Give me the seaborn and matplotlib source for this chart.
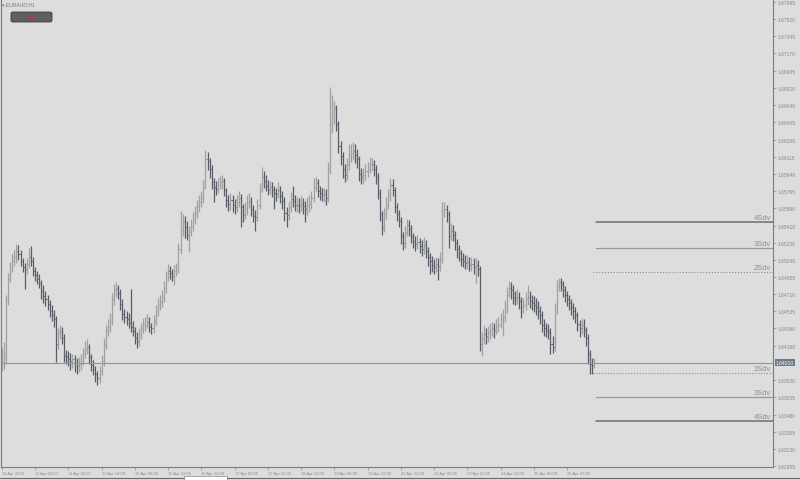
import matplotlib
matplotlib.use("Agg")
import matplotlib.pyplot as plt
import matplotlib.patches as mpatches
import matplotlib.transforms as mtransforms
import pandas as pd
import seaborn as sns

# EURAUD H1 bars, 10 Apr 2024 14:00 -> 26 Apr 2024
first_open = 1.6398
closes = [
    1.6402, 1.6405, 1.6466, 1.6487, 1.6499, 1.6505, 1.6509, 1.6515, 1.6512, 1.6505,
    1.6499, 1.6497, 1.6502, 1.6509, 1.6505, 1.6495, 1.6491, 1.6487, 1.6482, 1.6474,
    1.6469, 1.6466, 1.6461, 1.6454, 1.6450, 1.6446, 1.6420, 1.6431, 1.6433, 1.6426,
    1.6408, 1.6407, 1.6405, 1.6403, 1.6405, 1.6401, 1.6398, 1.6400, 1.6403, 1.6410,
    1.6415, 1.6417, 1.6407, 1.6399, 1.6395, 1.6389, 1.6385, 1.6393, 1.6403, 1.6420,
    1.6433, 1.6438, 1.6444, 1.6466, 1.6475, 1.6477, 1.6472, 1.6461, 1.6451, 1.6448,
    1.6446, 1.6442, 1.6438, 1.6433, 1.6426, 1.6423, 1.6430, 1.6436, 1.6440, 1.6440,
    1.6443, 1.6438, 1.6436, 1.6444, 1.6454, 1.6460, 1.6463, 1.6468, 1.6477, 1.6489,
    1.6495, 1.6493, 1.6490, 1.6495, 1.6497, 1.6517, 1.6536, 1.6546, 1.6540, 1.6532,
    1.6535, 1.6541, 1.6548, 1.6554, 1.6560, 1.6565, 1.6569, 1.6581, 1.6609, 1.6607,
    1.6599, 1.6586, 1.6581, 1.6579, 1.6583, 1.6586, 1.6587, 1.6577, 1.6567, 1.6563,
    1.6567, 1.6562, 1.6560, 1.6565, 1.6569, 1.6560, 1.6552, 1.6558, 1.6565, 1.6566,
    1.6558, 1.6551, 1.6550, 1.6562, 1.6579, 1.6591, 1.6587, 1.6582, 1.6579, 1.6581,
    1.6577, 1.6574, 1.6573, 1.6577, 1.6571, 1.6566, 1.6554, 1.6552, 1.6560, 1.6568,
    1.6566, 1.6562, 1.6562, 1.6561, 1.6563, 1.6561, 1.6558, 1.6562, 1.6563, 1.6569,
    1.6581, 1.6585, 1.6576, 1.6574, 1.6572, 1.6573, 1.6569, 1.6599, 1.6645, 1.6652,
    1.6661, 1.6645, 1.6622, 1.6612, 1.6599, 1.6593, 1.6604, 1.6612, 1.6615, 1.6617,
    1.6613, 1.6609, 1.6594, 1.6591, 1.6593, 1.6597, 1.6599, 1.6604, 1.6604, 1.6599,
    1.6591, 1.6574, 1.6553, 1.6540, 1.6553, 1.6563, 1.6571, 1.6583, 1.6577, 1.6560,
    1.6553, 1.6546, 1.6530, 1.6523, 1.6535, 1.6542, 1.6538, 1.6530, 1.6525, 1.6522,
    1.6524, 1.6520, 1.6517, 1.6521, 1.6515, 1.6509, 1.6505, 1.6501, 1.6499, 1.6502,
    1.6500, 1.6507, 1.6556, 1.6558, 1.6553, 1.6530, 1.6536, 1.6532, 1.6523, 1.6517,
    1.6513, 1.6507, 1.6505, 1.6503, 1.6504, 1.6501, 1.6502, 1.6499, 1.6501, 1.6497,
    1.6420, 1.6426, 1.6430, 1.6428, 1.6432, 1.6433, 1.6436, 1.6434, 1.6438, 1.6440,
    1.6446, 1.6448, 1.6458, 1.6470, 1.6477, 1.6475, 1.6468, 1.6466, 1.6468, 1.6464,
    1.6458, 1.6460, 1.6466, 1.6468, 1.6464, 1.6462, 1.6460, 1.6458, 1.6454, 1.6450,
    1.6440, 1.6436, 1.6434, 1.6432, 1.6420, 1.6417, 1.6456, 1.6479, 1.6483, 1.6481,
    1.6475, 1.6470, 1.6466, 1.6462, 1.6458, 1.6454, 1.6450, 1.6441, 1.6436, 1.6440,
    1.6434, 1.6426, 1.6410, 1.6400, 1.6399, 1.6401,
]
highs = [
    1.6416, 1.6422, 1.6470, 1.6493, 1.6504, 1.6512, 1.6516, 1.6522, 1.6521, 1.6516,
    1.6508, 1.6503, 1.6508, 1.6518, 1.6520, 1.6509, 1.6499, 1.6495, 1.6492, 1.6486,
    1.6480, 1.6474, 1.6470, 1.6465, 1.6460, 1.6455, 1.6449, 1.6437, 1.6440, 1.6438,
    1.6430, 1.6414, 1.6413, 1.6411, 1.6410, 1.6409, 1.6406, 1.6407, 1.6410, 1.6416,
    1.6423, 1.6425, 1.6420, 1.6410, 1.6404, 1.6398, 1.6393, 1.6398, 1.6409, 1.6426,
    1.6440, 1.6446, 1.6452, 1.6472, 1.6481, 1.6483, 1.6480, 1.6476, 1.6466, 1.6456,
    1.6454, 1.6452, 1.6476, 1.6444, 1.6438, 1.6432, 1.6436, 1.6442, 1.6447, 1.6448,
    1.6451, 1.6448, 1.6442, 1.6450, 1.6460, 1.6467, 1.6470, 1.6475, 1.6484, 1.6495,
    1.6502, 1.6500, 1.6497, 1.6501, 1.6503, 1.6523, 1.6556, 1.6553, 1.6551, 1.6546,
    1.6541, 1.6548, 1.6555, 1.6561, 1.6567, 1.6572, 1.6576, 1.6588, 1.6618, 1.6616,
    1.6610, 1.6603, 1.6590, 1.6587, 1.6590, 1.6592, 1.6593, 1.6590, 1.6580, 1.6572,
    1.6574, 1.6572, 1.6568, 1.6572, 1.6576, 1.6573, 1.6563, 1.6565, 1.6572, 1.6574,
    1.6570, 1.6562, 1.6557, 1.6568, 1.6585, 1.6601, 1.6597, 1.6593, 1.6588, 1.6587,
    1.6586, 1.6582, 1.6580, 1.6586, 1.6582, 1.6576, 1.6570, 1.6560, 1.6566, 1.6575,
    1.6582, 1.6572, 1.6570, 1.6569, 1.6571, 1.6569, 1.6566, 1.6570, 1.6572, 1.6576,
    1.6590, 1.6591, 1.6589, 1.6582, 1.6580, 1.6580, 1.6578, 1.6606, 1.6683, 1.6675,
    1.6668, 1.6664, 1.6648, 1.6628, 1.6616, 1.6604, 1.6610, 1.6624, 1.6624, 1.6626,
    1.6624, 1.6619, 1.6612, 1.6600, 1.6600, 1.6604, 1.6606, 1.6611, 1.6610, 1.6608,
    1.6603, 1.6595, 1.6578, 1.6556, 1.6559, 1.6570, 1.6578, 1.6590, 1.6589, 1.6581,
    1.6564, 1.6557, 1.6550, 1.6535, 1.6541, 1.6548, 1.6547, 1.6542, 1.6534, 1.6530,
    1.6531, 1.6528, 1.6526, 1.6529, 1.6526, 1.6519, 1.6513, 1.6510, 1.6507, 1.6509,
    1.6508, 1.6514, 1.6565, 1.6565, 1.6562, 1.6556, 1.6544, 1.6542, 1.6536, 1.6527,
    1.6521, 1.6516, 1.6513, 1.6511, 1.6511, 1.6509, 1.6509, 1.6508, 1.6508, 1.6506,
    1.6500, 1.6432, 1.6440, 1.6437, 1.6439, 1.6442, 1.6443, 1.6442, 1.6446, 1.6448,
    1.6452, 1.6456, 1.6465, 1.6478, 1.6484, 1.6483, 1.6480, 1.6474, 1.6476, 1.6473,
    1.6468, 1.6467, 1.6473, 1.6480, 1.6474, 1.6470, 1.6469, 1.6467, 1.6464, 1.6459,
    1.6454, 1.6446, 1.6442, 1.6441, 1.6436, 1.6428, 1.6462, 1.6486, 1.6488, 1.6488,
    1.6485, 1.6479, 1.6474, 1.6470, 1.6466, 1.6462, 1.6458, 1.6453, 1.6445, 1.6447,
    1.6446, 1.6438, 1.6430, 1.6414, 1.6406, 1.6406,
]
lows = [
    1.6393, 1.6395, 1.6400, 1.6460, 1.6483, 1.6494, 1.6500, 1.6503, 1.6506, 1.6500,
    1.6494, 1.6476, 1.6492, 1.6498, 1.6500, 1.6490, 1.6485, 1.6481, 1.6477, 1.6466,
    1.6462, 1.6459, 1.6455, 1.6448, 1.6444, 1.6438, 1.6402, 1.6415, 1.6425, 1.6420,
    1.6402, 1.6400, 1.6398, 1.6394, 1.6396, 1.6392, 1.6390, 1.6392, 1.6394, 1.6399,
    1.6406, 1.6410, 1.6400, 1.6393, 1.6388, 1.6381, 1.6378, 1.6380, 1.6388, 1.6398,
    1.6415, 1.6428, 1.6432, 1.6440, 1.6460, 1.6468, 1.6466, 1.6455, 1.6445, 1.6442,
    1.6440, 1.6436, 1.6432, 1.6428, 1.6420, 1.6416, 1.6418, 1.6425, 1.6431, 1.6433,
    1.6436, 1.6432, 1.6430, 1.6431, 1.6440, 1.6449, 1.6455, 1.6458, 1.6463, 1.6472,
    1.6484, 1.6487, 1.6484, 1.6480, 1.6490, 1.6493, 1.6512, 1.6530, 1.6528, 1.6526,
    1.6514, 1.6530, 1.6536, 1.6543, 1.6549, 1.6555, 1.6560, 1.6564, 1.6578, 1.6598,
    1.6590, 1.6578, 1.6565, 1.6572, 1.6574, 1.6578, 1.6579, 1.6571, 1.6560, 1.6556,
    1.6557, 1.6555, 1.6553, 1.6555, 1.6560, 1.6540, 1.6545, 1.6548, 1.6552, 1.6559,
    1.6551, 1.6545, 1.6536, 1.6546, 1.6558, 1.6575, 1.6580, 1.6576, 1.6572, 1.6573,
    1.6570, 1.6558, 1.6566, 1.6569, 1.6564, 1.6558, 1.6546, 1.6540, 1.6547, 1.6555,
    1.6560, 1.6556, 1.6555, 1.6554, 1.6556, 1.6553, 1.6545, 1.6552, 1.6555, 1.6558,
    1.6565, 1.6576, 1.6570, 1.6567, 1.6566, 1.6565, 1.6562, 1.6565, 1.6594, 1.6636,
    1.6645, 1.6638, 1.6615, 1.6603, 1.6590, 1.6586, 1.6588, 1.6598, 1.6606, 1.6608,
    1.6605, 1.6600, 1.6587, 1.6584, 1.6585, 1.6588, 1.6591, 1.6595, 1.6597, 1.6592,
    1.6584, 1.6568, 1.6546, 1.6531, 1.6535, 1.6548, 1.6558, 1.6566, 1.6571, 1.6554,
    1.6546, 1.6540, 1.6522, 1.6516, 1.6518, 1.6530, 1.6530, 1.6523, 1.6518, 1.6515,
    1.6517, 1.6513, 1.6510, 1.6512, 1.6508, 1.6500, 1.6492, 1.6494, 1.6492, 1.6494,
    1.6486, 1.6495, 1.6503, 1.6550, 1.6545, 1.6518, 1.6526, 1.6525, 1.6516, 1.6508,
    1.6505, 1.6500, 1.6499, 1.6497, 1.6497, 1.6495, 1.6495, 1.6492, 1.6482, 1.6490,
    1.6413, 1.6408, 1.6420, 1.6420, 1.6422, 1.6425, 1.6428, 1.6426, 1.6430, 1.6432,
    1.6436, 1.6428, 1.6443, 1.6452, 1.6468, 1.6466, 1.6461, 1.6460, 1.6461, 1.6456,
    1.6447, 1.6452, 1.6455, 1.6460, 1.6457, 1.6455, 1.6453, 1.6450, 1.6446, 1.6441,
    1.6432, 1.6428, 1.6427, 1.6425, 1.6410, 1.6411, 1.6413, 1.6451, 1.6474, 1.6474,
    1.6468, 1.6463, 1.6459, 1.6455, 1.6450, 1.6446, 1.6442, 1.6433, 1.6427, 1.6430,
    1.6427, 1.6418, 1.6400, 1.6390, 1.6390, 1.6396,
]

tick_bars = [0, 16, 32, 48, 64, 80, 96, 112, 128, 144, 160, 176, 192, 208, 224, 240, 256, 272]
tick_labels = ["10 Apr 2024", "11 Apr 06:00", "11 Apr 22:00", "12 Apr 14:00", "15 Apr 06:00",
               "15 Apr 22:00", "16 Apr 14:00", "17 Apr 06:00", "17 Apr 22:00", "18 Apr 14:00",
               "19 Apr 06:00", "19 Apr 22:00", "22 Apr 14:00", "23 Apr 06:00", "23 Apr 22:00",
               "24 Apr 14:00", "25 Apr 06:00", "25 Apr 22:00"]
price_ticks = [1.67695, 1.67520, 1.67345, 1.67170, 1.66995, 1.66820, 1.66640, 1.66465,
               1.66290, 1.66115, 1.65940, 1.65765, 1.65590, 1.65410, 1.65235, 1.65060,
               1.64885, 1.64710, 1.64535, 1.64360, 1.64180, 1.63830, 1.63655, 1.63480,
               1.63305, 1.63130, 1.62955]
current_price = 1.64010

sdv_names = ["4Sdv", "3Sdv", "2Sdv", "2Sdv", "3Sdv", "4Sdv"]
sdv_levels = [1.65448, 1.65182, 1.64937, 1.63905, 1.63660, 1.63415]

bg = "#dddddd"
grey_txt = "#8e8e8e"
sns.set_style("white", {"axes.facecolor": bg, "figure.facecolor": bg})
plt.rcParams["font.family"] = ["Liberation Sans", "DejaVu Sans"]

df = pd.DataFrame({"close": closes, "high": highs, "low": lows})
df["open"] = [first_open] + closes[:-1]
df["bar"] = range(len(df))
df["up"] = df["close"] >= df["open"]

fig = plt.figure(figsize=(8, 4.81), dpi=100)
ax = fig.add_axes([0.001, 13.5 / 481, 772 / 800, 467.5 / 481])

# OHLC bars: light for rising hours, dark for falling hours
for up, color in [(True, "#a0a0a0"), (False, "#585d67")]:
    d = df[df["up"] == up]
    ax.vlines(d["bar"], d["low"], d["high"], color=color, lw=0.9)
    ax.hlines(d["open"], d["bar"] - 0.5, d["bar"], color=color, lw=0.7)
    ax.hlines(d["close"], d["bar"], d["bar"] + 0.5, color=color, lw=0.7)

ax.set_xlim(-0.5, 371)
ax.set_ylim(1.62950, 1.67726)

# current price line + its label on the price scale
ax.axhline(current_price, color="#8d97a4", lw=0.8)
tr = mtransforms.blended_transform_factory(ax.transAxes, ax.transData)
ax.text(1.004, current_price, f"{current_price:.5f}", transform=tr, fontsize=3.6,
        color="white", va="center", ha="left",
        bbox=dict(boxstyle="square,pad=0.25", fc="#6b7888", ec="none"))

# standard deviation channel levels
styles = {"4Sdv": ("#676d7c", 1.1, "-", 286), "3Sdv": ("#9298a5", 0.9, "-", 286),
          "2Sdv": ("#8a8a8a", 0.8, (0, (1, 1.6)), 284.5)}
for name, level in zip(sdv_names, sdv_levels):
    color, lw, ls, start = styles[name]
    sns.lineplot(x=[start, 371], y=[level, level], ax=ax, color=color, lw=lw,
                 linestyle=ls, legend=False)
    ax.text(370, level + 0.00012, name, fontsize=5.4, color=grey_txt,
            ha="right", va="bottom")

# axes cosmetics
ax.yaxis.tick_right()
ax.set_yticks(price_ticks)
ax.set_yticklabels([f"{p:.5f}" for p in price_ticks])
ax.set_xticks(tick_bars)
ax.set_xticklabels(tick_labels, ha="left")
ax.tick_params(axis="y", labelsize=3.6, colors="#8a8a8a", length=2, width=0.5, pad=1.5,
               right=True, left=False)
ax.tick_params(axis="x", labelsize=3.0, colors="#8a8a8a", length=2, width=0.5, pad=1.5,
               bottom=True)
ax.set_xlabel("")
ax.set_ylabel("")
for side in ["left", "bottom", "right"]:
    ax.spines[side].set_color("#7c7c7c")
    ax.spines[side].set_linewidth(0.8)
ax.spines["top"].set_visible(False)

# symbol caption and small button in the upper left
fig.text(2 / 800, 1 - 5 / 481, "▾ EURAUD,H1", fontsize=3.6, color="#777777",
         va="center", ha="left")
fig.patches.append(mpatches.FancyBboxPatch(
    (11 / 800, 1 - 23 / 481), 41 / 800, 10 / 481, transform=fig.transFigure,
    boxstyle="round,pad=0,rounding_size=0.003", fc="#606060", ec="#3c3c3c", lw=0.6))
fig.text(31.5 / 800, 1 - 18 / 481, "$$", fontsize=4.5, color="#d42a2a",
         va="center", ha="center", parse_math=False)

# sheet tabs strip along the bottom edge
fig.lines.append(plt.Line2D([0, 184 / 800], [2.5 / 481, 2.5 / 481],
                            transform=fig.transFigure, color="#6a6a6a", lw=0.8))
fig.lines.append(plt.Line2D([227 / 800, 1], [2.5 / 481, 2.5 / 481],
                            transform=fig.transFigure, color="#6a6a6a", lw=0.8))
fig.patches.append(mpatches.Rectangle((184 / 800, 0), 43 / 800, 4 / 481,
                                      transform=fig.transFigure, fc="white", ec="#8a8a8a",
                                      lw=0.5))

fig.savefig("out.png", dpi=100, facecolor=bg)
